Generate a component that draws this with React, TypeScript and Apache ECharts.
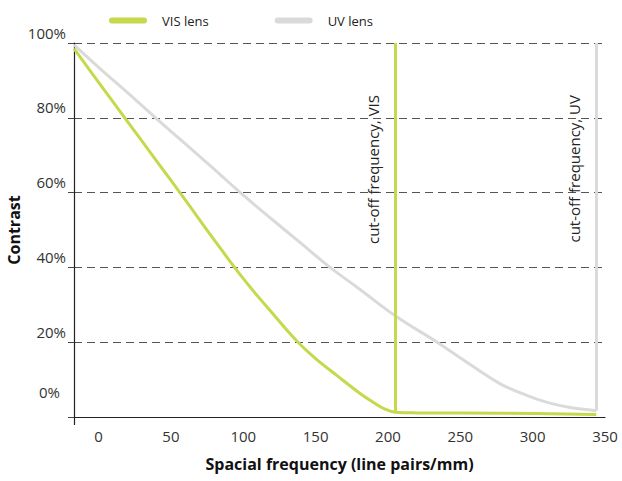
import React, { useEffect, useRef } from "react";
import * as echarts from "echarts";

const visLens: [number, number][] = [
  [-17, 98.5], [0, 89.5], [20, 79], [40, 68.5], [60, 58], [80, 47.3],
  [100, 37], [120, 27.8], [137, 20.3], [150, 15.6], [165, 11], [180, 6.5],
  [190, 3.9], [198, 2.1], [205, 1.3], [220, 1.1], [280, 1.0], [344, 0.7],
];
const uvLens: [number, number][] = [
  [-17, 99.5], [0, 93.5], [20, 86.7], [40, 79.8], [60, 73], [80, 66.2],
  [100, 59.3], [120, 52.8], [140, 46.4], [160, 40], [180, 34.3], [206, 26.8],
  [234, 20], [255, 14.5], [277, 9.0], [295, 5.9], [310, 3.9], [325, 2.6],
  [344, 1.7],
];
const visCutoff = 205;
const uvCutoff = 344;
const xTicks = [0, 50, 100, 150, 200, 250, 300, 350];
const yTicks = [0, 20, 40, 60, 80, 100];

const GREEN = "#C6D84C";
const GRAY = "#DADADA";
const FONT = "Open Sans";

export default function App() {
  const ref = useRef<HTMLDivElement>(null);
  useEffect(() => {
    if (!ref.current) return;
    const chart = echarts.init(ref.current, null, { renderer: "svg" });
    const capsule = "path://M3,0H35A3,3,0,0,1,35,6H3A3,3,0,0,1,3,0Z";
    chart.setOption({
      animation: false,
      textStyle: { fontFamily: FONT },
      legend: {
        top: 9,
        left: 104,
        itemWidth: 38,
        itemHeight: 6,
        itemGap: 66,
        textStyle: { fontSize: 13, color: "#222", fontFamily: FONT, padding: [0, 0, 0, 10] },
        data: [
          { name: "VIS lens", icon: capsule, itemStyle: { color: GREEN } },
          { name: "UV lens", icon: capsule, itemStyle: { color: GRAY } },
        ],
      },
      grid: { left: 74, right: 17, top: 43, bottom: 64, containLabel: false, outerBoundsMode: "none" },
      xAxis: {
        type: "value",
        min: -17,
        max: 350,
        name: "Spacial frequency (line pairs/mm)",
        nameLocation: "middle",
        nameGap: 39,
        nameMoveOverlap: false,
        nameTextStyle: { fontWeight: "bold", fontSize: 16, color: "#111", fontFamily: FONT },
        axisLine: { show: true, onZero: false, lineStyle: { color: "#222", width: 1.2 } },
        axisTick: { show: true, customValues: [-17], length: 8, lineStyle: { color: "#222", width: 1.2 } },
        axisLabel: { customValues: xTicks, fontSize: 15, color: "#333", margin: 11, fontFamily: FONT },
        splitLine: { show: false },
      },
      yAxis: {
        type: "value",
        min: 0,
        max: 100,
        interval: 20,
        name: "Contrast",
        nameLocation: "middle",
        nameGap: 52,
        nameMoveOverlap: false,
        nameTextStyle: { fontWeight: "bold", fontSize: 16, color: "#111", fontFamily: FONT },
        axisLine: { show: true, onZero: false, lineStyle: { color: "#222", width: 1.2 } },
        axisTick: { show: true, customValues: yTicks, length: 6, lineStyle: { color: "#444", width: 1 } },
        axisLabel: {
          customValues: yTicks,
          margin: 8,
          verticalAlign: "bottom",
          fontFamily: FONT,
          formatter: (v: number) => (v === 0 ? `{z|${v}%}` : `{n|${v}%}`),
          rich: {
            n: { fontSize: 15, color: "#333", fontFamily: FONT, padding: [0, 0, 3, 0] },
            z: { fontSize: 15, color: "#333", fontFamily: FONT, padding: [0, 6, 18, 0] },
          },
        },
        splitLine: { show: true, lineStyle: { color: "#555", type: [8, 5], width: 1 } },
      },
      series: [
        {
          name: "VIS lens",
          type: "line",
          data: visLens,
          smooth: 0.4,
          showSymbol: false,
          symbol: "none",
          lineStyle: { color: GREEN, width: 3 },
          itemStyle: { color: GREEN },
          z: 3,
          markLine: {
            silent: true,
            symbol: "none",
            lineStyle: { color: GREEN, width: 3, type: "solid" },
            label: {
              show: true,
              position: "insideEndTop",
              distance: [52, 15],
              formatter: "cut-off frequency, VIS",
              fontSize: 15,
              color: "#222",
              fontFamily: FONT,
            },
            data: [[{ coord: [visCutoff, 1.2] }, { coord: [visCutoff, 100] }]],
          },
        },
        {
          name: "UV lens",
          type: "line",
          data: uvLens,
          smooth: 0.4,
          showSymbol: false,
          symbol: "none",
          lineStyle: { color: GRAY, width: 3 },
          itemStyle: { color: GRAY },
          z: 2,
          markLine: {
            silent: true,
            symbol: "none",
            lineStyle: { color: GRAY, width: 3, type: "solid" },
            label: {
              show: true,
              position: "insideEndTop",
              distance: [52, 15],
              formatter: "cut-off frequency, UV",
              fontSize: 15,
              color: "#222",
              fontFamily: FONT,
            },
            data: [[{ coord: [uvCutoff, 1.7] }, { coord: [uvCutoff, 100] }]],
          },
        },
      ],
    });
    return () => chart.dispose();
  }, []);
  return <div ref={ref} style={{ width: 622, height: 481, position: "absolute", left: 0, top: 0 }} />;
}
